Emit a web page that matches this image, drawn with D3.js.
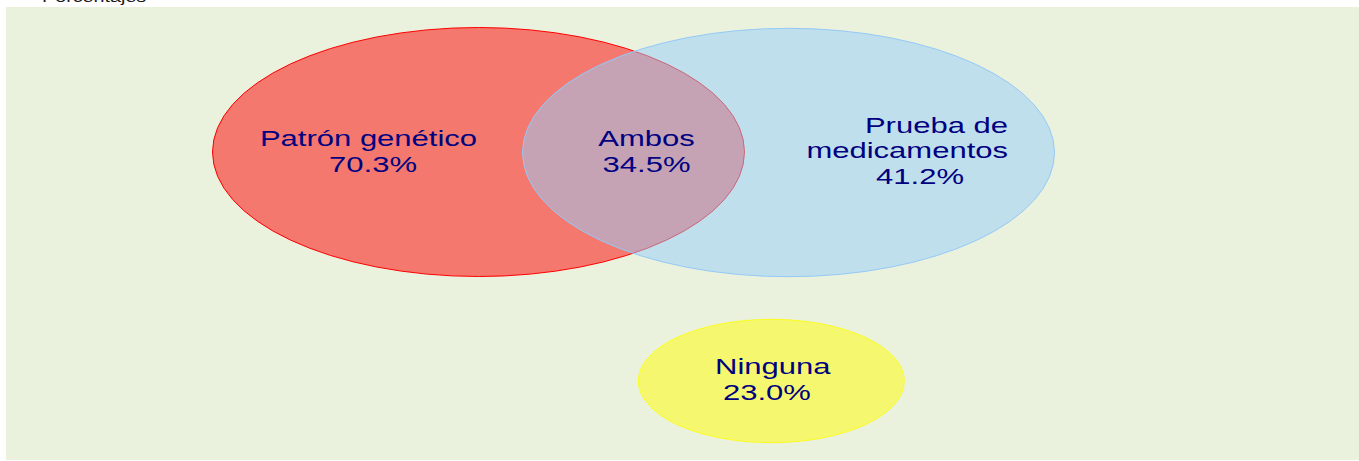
<!DOCTYPE html>
<html>
<head>
<meta charset="utf-8">
<script src="https://cdn.jsdelivr.net/npm/d3@7"></script>
<style>
  body { margin: 0; background: #ffffff; }
  svg { display: block; }
  .label { font-family: 'Liberation Sans', Arial, sans-serif; font-size: 22px; fill: #000080; }
  .title { font-family: 'Liberation Sans', Arial, sans-serif; font-size: 14px; fill: #1a1a1a; }
</style>
</head>
<body>
<svg id="venn"></svg>
<script>
// set svg size
const width = 1359;
const height = 461;

// chart values
const setNames = ['Patrón genético', 'Prueba de medicamentos', 'Ambos', 'Ninguna'];
const setLines = [['Patrón genético'], ['Prueba de', 'medicamentos'], ['Ambos'], ['Ninguna']];
const percents = [70.3, 41.2, 34.5, 23.0];
const titleText = 'Porcentajes';

// the picture is stretched sideways, text included
const stretch = 1.41;

// layout of the shapes (pixels), one entry per set that has a shape
const shapes = [
  { set: 0, cx: 478.5, cy: 152, rx: 266, ry: 124.5, fill: 'rgba(255,0,0,0.5)', stroke: '#ff0000' },
  { set: 1, cx: 788.5, cy: 152.5, rx: 266, ry: 124.2, fill: 'rgba(150,205,251,0.5)', stroke: '#94c9f8' },
  { set: 3, cx: 771.3, cy: 381, rx: 133, ry: 61.7, fill: 'rgba(255,255,0,0.5)', stroke: 'rgba(255,255,0,0.8)' }
];

// label line positions: [x, baseline, anchor] for each line (name lines + percent line)
const labelPos = [
  [[368.5, 146, 'middle'], [373, 171.7, 'middle']],
  [[1008, 132.7, 'end'], [1008, 158.3, 'end'], [920, 184, 'middle']],
  [[646.5, 146, 'middle'], [646.5, 171.7, 'middle']],
  [[715, 374, 'start'], [723, 400.3, 'start']]
];

const svg = d3.select('#venn');
svg.attr('width', width).attr('height', height);

const fmt = d3.format('.1f');

drawTitle();
drawPanel();
drawShapes();
drawLabels();

function drawTitle() {
  svg.append('text')
     .attr('class', 'title')
     .attr('transform', translate(42, 2) + ' scale(' + stretch + ',1)')
     .text(titleText);
}

function drawPanel() {
  svg.append('rect')
     .attr('x', 6)
     .attr('y', 7)
     .attr('width', width - 6)
     .attr('height', 453)
     .attr('fill', '#eaf1dd');
}

function drawShapes() {
  const group = svg.append('g').attr('id', 'shapes');

  group.selectAll('ellipse')
       .data(shapes)
       .enter()
       .append('ellipse')
       .attr('cx', d => d.cx)
       .attr('cy', d => d.cy)
       .attr('rx', d => d.rx)
       .attr('ry', d => d.ry)
       .attr('fill', d => d.fill)
       .attr('stroke', d => d.stroke)
       .attr('stroke-width', 1);
}

function drawLabels() {
  const group = svg.append('g').attr('id', 'labels');

  setNames.forEach((name, i) => {
    const lines = setLines[i].concat([fmt(percents[i]) + '%']);
    lines.forEach((line, j) => {
      const p = labelPos[i][j];
      group.append('text')
           .attr('class', 'label')
           .attr('text-anchor', p[2])
           .attr('transform', translate(p[0], p[1]) + ' scale(' + stretch + ',1)')
           .text(line);
    });
  });
}

function translate(x, y) {
  return 'translate(' + String(x) + ',' + String(y) + ')';
}
</script>
</body>
</html>
